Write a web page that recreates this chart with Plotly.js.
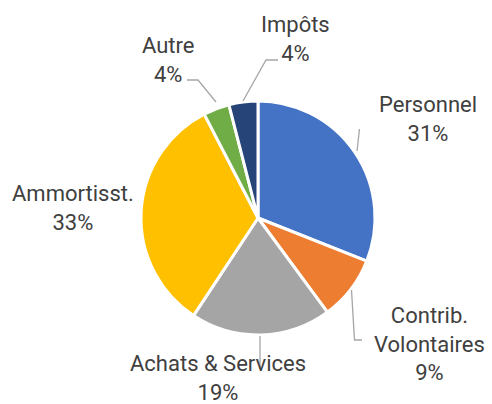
<!DOCTYPE html>
<html><head><meta charset="utf-8">
<script src="https://cdn.plot.ly/plotly-3.0.1.min.js"></script>
<style>html,body{margin:0;padding:0;background:#fff}#chart{width:492px;height:404px}</style>
</head><body><div id="chart"></div>
<script>
const categories = ["Personnel", "Contrib.<br>Volontaires", "Achats & Services", "Ammortisst.", "Autre", "Impôts"];
const values = [31.0, 8.9, 19.4, 33.1, 3.6, 4.0];
const colors = ["#4472C4", "#ED7D31", "#A5A5A5", "#FFC000", "#70AD47", "#264478"];

const total = values.reduce((a, b) => a + b, 0);
const pct = values.map(v => Math.round(v / total * 100) + "%");

// label placement (pixels in the 492x404 page)
const labelPos = [[428, 119], [429, 344], [218, 378], [73, 208], [168, 60], [295, 39]];
const W = 492, H = 404;
const annotations = categories.map((c, i) => ({
  xref: "paper", yref: "paper",
  x: labelPos[i][0] / W, y: 1 - labelPos[i][1] / H,
  xanchor: "center", yanchor: "middle",
  text: c + "<br>" + pct[i], showarrow: false,
  font: {family: "Roboto, sans-serif", size: 22, color: "#404040"}
}));

function px(x, y) { return [x / W, 1 - y / H]; }
function path(pts) { return pts.map((p, i) => (i ? "L" : "M") + px(p[0], p[1]).join(",")).join(" "); }
const leaders = [
  [[357, 151], [359.5, 129]],
  [[351.5, 290], [354.5, 340], [362, 340]],
  [[260, 336], [260, 369]],
  [[187, 80], [198, 80], [216, 102]],
  [[278, 60], [266, 60], [243, 101]]
];
const shapes = leaders.map(l => ({
  type: "path", xref: "paper", yref: "paper", path: path(l),
  line: {color: "#A6A6A6", width: 1.3}
}));

const trace = {
  type: "pie", labels: categories, values: values, sort: false,
  direction: "clockwise", rotation: 0,
  marker: {colors: colors, line: {color: "#ffffff", width: 3}},
  textinfo: "none", hoverinfo: "label+percent",
  domain: {x: [(258 - 117) / W, (258 + 117) / W], y: [(404 - 218 - 117) / H, (404 - 218 + 117) / H]}
};

Plotly.newPlot("chart", [trace], {
  width: W, height: H, margin: {l: 0, r: 0, t: 0, b: 0},
  showlegend: false, paper_bgcolor: "#ffffff",
  annotations: annotations, shapes: shapes
}, {displayModeBar: false, staticPlot: true});
</script></body></html>
